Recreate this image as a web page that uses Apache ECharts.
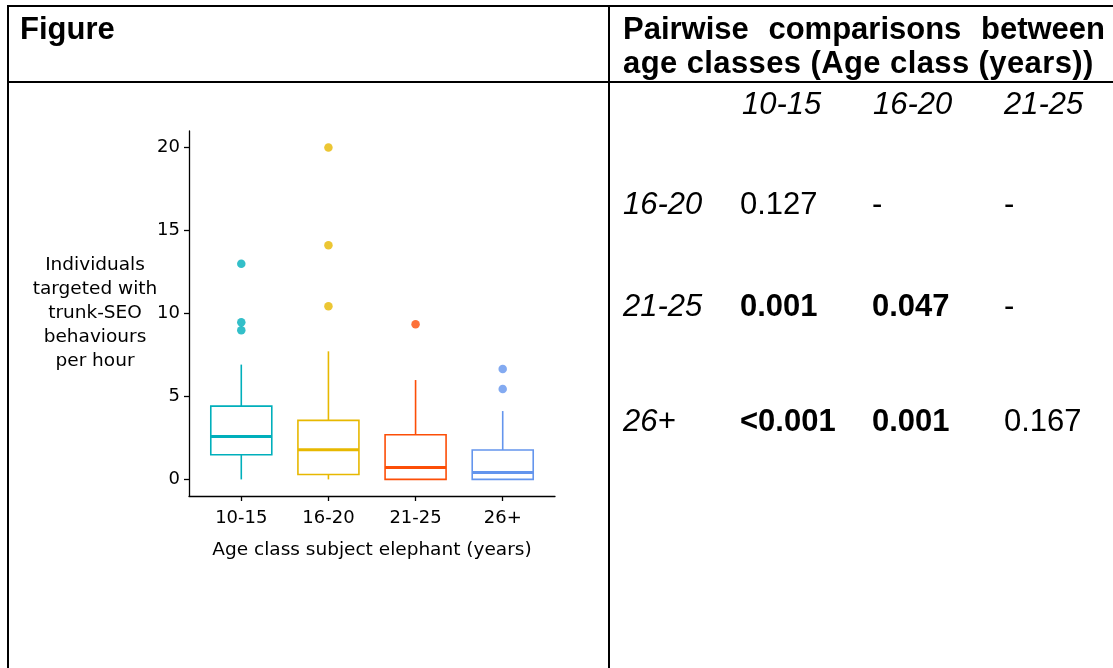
<!DOCTYPE html>
<html>
<head>
<meta charset="utf-8">
<script src="https://cdn.jsdelivr.net/npm/echarts@6/dist/echarts.min.js"></script>
<style>
  html, body { margin: 0; padding: 0; background: #fff; width: 1113px; height: 668px; overflow: hidden; }
  #chart { position: absolute; left: 0; top: 0; width: 1113px; height: 668px; }
  .rule { position: absolute; background: #000; }
  .t { position: absolute; font-family: "Liberation Sans", Arial, sans-serif; font-size: 31px; line-height: 31px; color: #000; white-space: nowrap; }
  .b { font-weight: bold; }
  .i { font-style: italic; }
  .head1 { display: flex; justify-content: space-between; }
  .wide { letter-spacing: 0.4px; }
</style>
</head>
<body>
<div id="chart"></div>
<div id="table"></div>
<script>
// Trunk-SEO rate per subject age class: box statistics and outliers
const categories = ['10-15', '16-20', '21-25', '26+'];
const whiskerLow = [0, 0, 0, 0];
const lowerQuartile = [1.49, 0.30, 0, 0];
const medians = [2.59, 1.79, 0.72, 0.42];
const upperQuartile = [4.42, 3.56, 2.69, 1.77];
const whiskerHigh = [6.92, 7.72, 5.99, 4.12];
const outliers1015 = [13.0, 9.47, 8.99];
const outliers1620 = [20.0, 14.11, 10.43];
const outliers2125 = [9.35];
const outliers26 = [6.65, 5.45];
const yTicks = [0, 5, 10, 15, 20];

// Pairwise comparison p-values (rows vs columns)
const rowClasses = ['16-20', '21-25', '26+'];
const colClasses = ['10-15', '16-20', '21-25'];
const pValues = [
  ['0.127', '-', '-'],
  ['0.001', '0.047', '-'],
  ['<0.001', '0.001', '0.167']
];

const palette = ['#00AFBB', '#E7B800', '#FC4E07', '#6495ED'];
const BOX_WIDTH = 0.7;
const LINE_W = 1.6;

// ---------- table frame and text ----------
const table = document.getElementById('table');
function rule(l, t, w, h) {
  const d = document.createElement('div');
  d.className = 'rule';
  d.style.cssText = `left:${l}px;top:${t}px;width:${w}px;height:${h}px`;
  table.appendChild(d);
}
function text(str, l, baseline, cls) {
  const d = document.createElement('div');
  d.className = 't ' + (cls || '');
  d.textContent = str;
  d.style.left = l + 'px';
  d.style.top = (baseline - 26.2) + 'px';
  table.appendChild(d);
  return d;
}
rule(7, 5, 1106, 2);
rule(7, 5, 2, 663);
rule(7, 81, 1106, 2);
rule(608, 5, 2, 663);

text('Figure', 20, 39, 'b');
const h1 = text('', 623, 39, 'b head1');
h1.style.width = '482px';
['Pairwise', 'comparisons', 'between'].forEach(w => {
  const s = document.createElement('span'); s.textContent = w; h1.appendChild(s);
});
text('age classes (Age class (years))', 623, 73, 'b wide');

const colX = [742, 873, 1004];
const rowBase = [214, 316, 431];
colClasses.forEach((c, j) => text(c, colX[j], 114, 'i'));
rowClasses.forEach((r, i) => {
  text(r, 623, rowBase[i], 'i');
  pValues[i].forEach((p, j) => {
    const num = parseFloat(p.replace('<', ''));
    const significant = p.startsWith('<') || (!isNaN(num) && num < 0.05);
    text(p, [740, 872, 1004][j], rowBase[i], significant ? 'b' : '');
  });
});

// ---------- box plot ----------
const chart = echarts.init(document.getElementById('chart'), null, { renderer: 'canvas' });
const boxData = categories.map((c, i) => [i + 1, whiskerLow[i], lowerQuartile[i], medians[i], upperQuartile[i], whiskerHigh[i]]);
const outlierData = [];
[outliers1015, outliers1620, outliers2125, outliers26].forEach((list, i) => {
  list.forEach(v => outlierData.push({ value: [i + 1, v], itemStyle: { color: palette[i] } }));
});

const axisFont = { color: '#000', fontFamily: 'DejaVu Sans', fontSize: 18 };
const titleFont = { color: '#000', fontFamily: 'DejaVu Sans', fontSize: 18.5 };

chart.setOption({
  animation: false,
  grid: { left: 189, top: 131, width: 366, height: 365, containLabel: false },
  xAxis: {
    type: 'value', min: 0.4, max: 4.6,
    splitLine: { show: false },
    axisLine: { show: true, onZero: false, lineStyle: { color: '#000', width: 1.3 } },
    axisTick: { show: true, length: 5, customValues: [1, 2, 3, 4], lineStyle: { color: '#000', width: 1.3 } },
    axisLabel: Object.assign({ customValues: [1, 2, 3, 4], margin: 13, formatter: v => categories[Math.round(v) - 1] }, axisFont),
    name: 'Age class subject elephant (years)',
    nameLocation: 'middle', nameGap: 45, nameMoveOverlap: false,
    nameTextStyle: titleFont
  },
  yAxis: {
    type: 'value', min: -1, max: 21,
    splitLine: { show: false },
    axisLine: { show: true, onZero: false, lineStyle: { color: '#000', width: 1.3 } },
    axisTick: { show: true, length: 5, customValues: yTicks, lineStyle: { color: '#000', width: 1.3 } },
    axisLabel: Object.assign({ customValues: yTicks, margin: 9 }, axisFont),
    name: 'Individuals\ntargeted with\ntrunk-SEO\nbehaviours\nper hour',
    nameLocation: 'middle', nameGap: 94, nameRotate: 0, nameMoveOverlap: false,
    nameTextStyle: Object.assign({ align: 'center', verticalAlign: 'middle', lineHeight: 24 }, titleFont)
  },
  series: [
    {
      type: 'scatter',
      data: outlierData,
      symbol: 'circle', symbolSize: 8.5,
      z: 1
    },
    {
      type: 'custom',
      data: boxData,
      encode: { x: 0, y: [1, 2, 3, 4, 5] },
      z: 2,
      renderItem: function (params, api) {
        const x = api.value(0);
        const half = api.size([BOX_WIDTH, 0])[0] / 2;
        const pLow = api.coord([x, api.value(1)]);
        const pQ1 = api.coord([x, api.value(2)]);
        const pMed = api.coord([x, api.value(3)]);
        const pQ3 = api.coord([x, api.value(4)]);
        const pHigh = api.coord([x, api.value(5)]);
        const color = palette[params.dataIndex];
        return {
          type: 'group',
          children: [
            { type: 'line', shape: { x1: pLow[0], y1: pLow[1], x2: pQ1[0], y2: pQ1[1] }, style: { stroke: color, lineWidth: LINE_W } },
            { type: 'line', shape: { x1: pQ3[0], y1: pQ3[1], x2: pHigh[0], y2: pHigh[1] }, style: { stroke: color, lineWidth: LINE_W } },
            { type: 'rect', shape: { x: pQ1[0] - half, y: pQ3[1], width: half * 2, height: pQ1[1] - pQ3[1] }, style: { fill: '#fff', stroke: color, lineWidth: LINE_W } },
            { type: 'line', shape: { x1: pMed[0] - half, y1: pMed[1], x2: pMed[0] + half, y2: pMed[1] }, style: { stroke: color, lineWidth: 3 } }
          ]
        };
      }
    }
  ]
});
</script>
</body>
</html>
